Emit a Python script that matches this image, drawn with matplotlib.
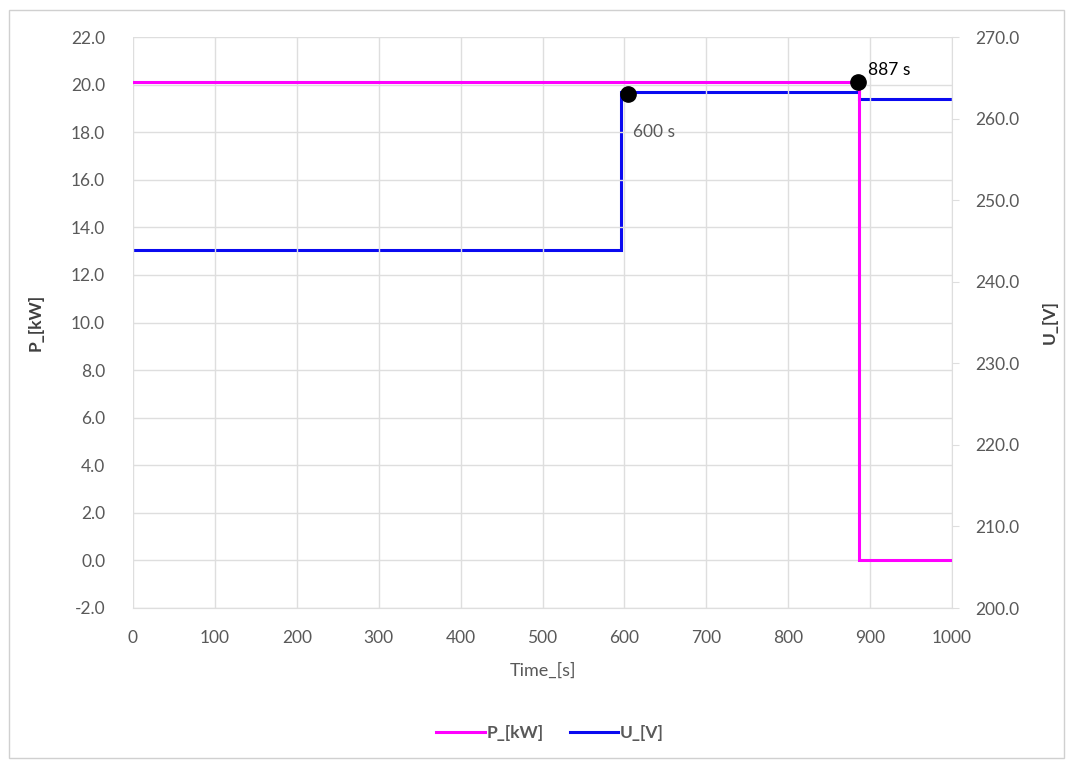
import matplotlib
matplotlib.use("Agg")
import matplotlib.pyplot as plt
from matplotlib.patches import Rectangle

plt.rcParams["font.family"] = ["Lato", "DejaVu Sans"]

# ---- data ----
p_time = [0, 887, 887, 1000]
p_kw = [20.1, 20.1, 0.0, 0.0]

u_time = [0, 596, 596, 887, 887, 1000]
u_volt = [243.9, 243.9, 263.2, 263.2, 262.4, 262.4]

mark_time = [604, 885]
mark_p = [19.6, 20.1]
mark_text = ["600 s", "887 s"]

GREY = "#595959"
GRID = "#DEDEDE"
MAGENTA = "#FF00FF"
BLUE = "#0A0AF0"

fig = plt.figure(figsize=(10.7, 7.6), dpi=100)
ax = fig.add_axes([133 / 1070, 1 - 608 / 760, (952 - 133) / 1070, (608 - 37) / 760])
ax2 = ax.twinx()

# chart border
fig.patches.append(Rectangle((9 / 1070, 2 / 760), 1055 / 1070, 748 / 760, transform=fig.transFigure,
                             fill=False, edgecolor="#D0D0D0", lw=1))

ax.set_zorder(ax2.get_zorder() + 1)
ax.patch.set_visible(False)

l1, = ax.plot(p_time, p_kw, color=MAGENTA, lw=2.2, label="P_[kW]", solid_joinstyle="miter")
l2, = ax2.plot(u_time, u_volt, color=BLUE, lw=2.2, label="U_[V]", solid_joinstyle="miter")
ax.plot(mark_time, mark_p, "o", color="black", ms=11, zorder=5)
ax.text(mark_time[0] + 6, mark_p[0] - 1.6, mark_text[0], fontsize=12.5, color=GREY, va="center")
ax.text(mark_time[1] + 12, mark_p[1] + 0.5, mark_text[1], fontsize=12.5, color="black", va="center")

ax.set_xlim(0, 1000)
ax.set_ylim(-2, 22)
ax2.set_ylim(200, 270)
ax.set_xticks(range(0, 1001, 100))
ax.set_yticks([v for v in range(-2, 23, 2)])
ax.set_yticklabels([f"{v:.1f}" for v in range(-2, 23, 2)])
ax2.set_yticks(range(200, 271, 10))
ax2.set_yticklabels([f"{v:.1f}" for v in range(200, 271, 10)])

ax.grid(True, color=GRID, lw=1)
ax.set_axisbelow(True)
for a in (ax, ax2):
    for s in ("top", "left", "right"):
        a.spines[s].set_visible(False)
    a.spines["bottom"].set_color(GRID)
ax2.spines["right"].set_visible(True)
ax2.spines["right"].set_color(GRID)

ax.tick_params(axis="x", length=0, labelsize=12.5, labelcolor=GREY, pad=16)
ax.tick_params(axis="y", length=0, labelsize=12.5, labelcolor=GREY, pad=20)
ax2.tick_params(axis="y", length=5, color=GRID, labelsize=12.5, labelcolor=GREY, pad=12)

ax.set_xlabel("Time_[s]", fontsize=13, color=GREY, labelpad=12)
ax.set_ylabel("P_[kW]", fontsize=12.5, color="#404040", fontweight="bold", labelpad=20)
ax2.set_ylabel("U_[V]", fontsize=12.5, color="#404040", fontweight="bold", rotation=90, labelpad=16)

fig.legend([l1, l2], ["P_[kW]", "U_[V]"], loc="center", bbox_to_anchor=(550 / 1070, 1 - 733 / 760),
           ncol=2, frameon=False, prop={"size": 12.5, "weight": "bold"}, labelcolor=GREY,
           handlelength=2.8, handletextpad=0.1, columnspacing=1.5)

fig.savefig("out.png", dpi=100)
